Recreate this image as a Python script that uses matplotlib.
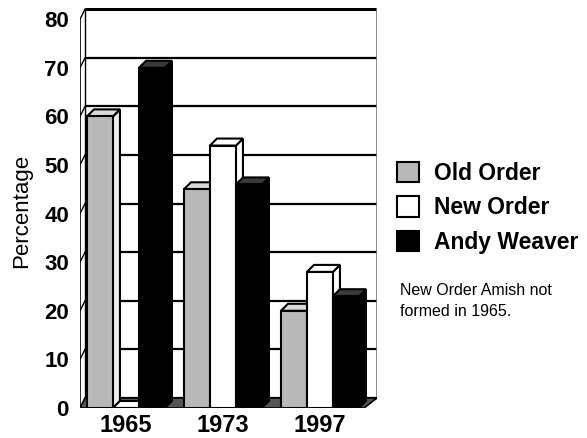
import matplotlib.pyplot as plt
from matplotlib.patches import Polygon

plt.rcParams['font.family'] = ['Liberation Sans', 'DejaVu Sans']

years = ["1965", "1973", "1997"]
groups = ["Old Order", "New Order", "Andy Weaver"]
old_order = [60, 45, 20]
new_order = [0, 54, 28]
andy_weaver = [70, 46, 23]
yticks = [0, 10, 20, 30, 40, 50, 60, 70, 80]
note = "New Order Amish not\nformed in 1965."

# face colours: front, top, side
styles = [
    ("#b8b8b8", "#dadada", "#ececec"),
    ("#ffffff", "#ffffff", "#ffffff"),
    ("#000000", "#3a3a3a", "#000000"),
]

fig = plt.figure(figsize=(5.87, 4.38), dpi=100)
ax = fig.add_axes([80 / 587, 30 / 438, 297 / 587, 400 / 438])

xl, xr = -0.474, 2.588
ax.set_xlim(xl, xr)
ax.set_ylim(0, 82.3)

# depth of the back wall and of the bars, in data units
wdx, wdy = 0.052, 2.06
bdx, bdy = 0.072, 1.44
w = 0.268

# floor
floor_right = 2.454
ax.add_patch(Polygon([(xl, 0), (floor_right, 0), (xr, wdy), (xl + wdx, wdy)],
                     closed=True, facecolor="#555555", edgecolor="black",
                     lw=1.2, zorder=1))

# back wall grid
for v in yticks:
    lw = 2.2 if v == 80 else 1.6
    ax.plot([xl + wdx, xr], [v + wdy, v + wdy], color="black", lw=lw, zorder=0.5,
            solid_capstyle="butt")
    ax.plot([xl, xl + wdx], [v, v + wdy], color="black", lw=1.0, zorder=0.5)
ax.plot([xr, xr], [wdy, 80 + wdy], color="#777777", lw=1.2, zorder=0.5)
ax.plot([xl + wdx, xl + wdx], [wdy, 80 + wdy], color="black", lw=1.0, zorder=0.5)
ax.plot([xl, xl], [0, 80], color="black", lw=1.2, zorder=0.5)

series = [old_order, new_order, andy_weaver]
handles = []
z = 2
for gi in range(len(years)):
    for si, vals in enumerate(series):
        front, top, side = styles[si]
        x = gi + (si - 1) * w
        v = vals[gi]
        right = x + w / 2
        left = x - w / 2
        ax.add_patch(Polygon([(right, 0), (right + bdx, bdy), (right + bdx, v + bdy), (right, v)],
                             closed=True, facecolor=side, edgecolor="black", lw=1.5, zorder=z))
        ax.add_patch(Polygon([(left, v), (right, v), (right + bdx, v + bdy), (left + bdx, v + bdy)],
                             closed=True, facecolor=top, edgecolor="black", lw=1.5, zorder=z))
        b = ax.bar(x, v, width=w, color=front, edgecolor="black", lw=1.5, zorder=z + 0.5)
        if gi == 0:
            handles.append(b)
        z += 1

for s in ax.spines.values():
    s.set_visible(False)

ax.set_yticks(yticks)
ax.set_yticklabels([str(t) for t in yticks], fontsize=16, fontweight="bold")
ax.set_xticks(range(len(years)))
ax.set_xticklabels(years, fontsize=17, fontweight="bold")
ax.tick_params(axis="y", length=0, pad=8)
ax.tick_params(axis="x", length=0, pad=4)

fig.text(22 / 587, 1 - 211 / 438, "Percentage", rotation=90, fontsize=16,
         ha="center", va="center")

ax.legend(handles, groups, loc="upper left", bbox_to_anchor=(397 / 587, 1 - 162 / 438),
          bbox_transform=fig.transFigure, frameon=False,
          prop={"weight": "bold", "size": 16.5}, handlelength=0.98, handleheight=0.98,
          handletextpad=0.65, labelspacing=0.5, borderpad=0, borderaxespad=0)

fig.text(400 / 587, 1 - 301 / 438, note, fontsize=11.5, ha="left", va="center",
         linespacing=1.55)

fig.savefig("out.png", dpi=100)
